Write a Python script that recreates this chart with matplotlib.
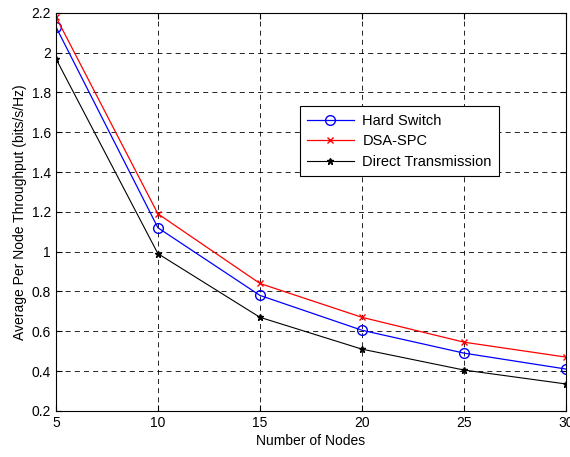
import matplotlib
matplotlib.use("Agg")
import matplotlib.pyplot as plt

nodes = [5, 10, 15, 20, 25, 30]
hard_switch = [2.13, 1.12, 0.78, 0.605, 0.49, 0.41]
dsa_spc = [2.18, 1.19, 0.84, 0.67, 0.545, 0.47]
direct_tx = [1.97, 0.99, 0.67, 0.51, 0.405, 0.335]

plt.rcParams['font.family'] = ['Liberation Sans', 'DejaVu Sans']
plt.rcParams['font.size'] = 10

fig = plt.figure(figsize=(5.7, 4.57), dpi=100)
ax = fig.add_axes([0.098, 0.101, 0.895, 0.871])

ax.plot(nodes, hard_switch, color='blue', marker='o', markersize=7,
        markerfacecolor='none', linewidth=0.9, label='Hard Switch')
ax.plot(nodes, dsa_spc, color='red', marker='x', markersize=4,
        linewidth=0.9, label='DSA-SPC')
ax.plot(nodes, direct_tx, color='black', marker='*', markersize=5,
        linewidth=0.8, label='Direct Transmission')

ax.set_xlim(5, 30)
ax.set_ylim(0.2, 2.2)
ax.set_xticks([5, 10, 15, 20, 25, 30])
ax.set_yticks([0.2, 0.4, 0.6, 0.8, 1, 1.2, 1.4, 1.6, 1.8, 2, 2.2])
ax.set_yticklabels(['0.2', '0.4', '0.6', '0.8', '1', '1.2', '1.4', '1.6', '1.8', '2', '2.2'])
ax.grid(True, color='black', linestyle=(0, (6, 5)), linewidth=0.6)
ax.tick_params(direction='in', length=4, top=True, right=True)
for s in ax.spines.values():
    s.set_linewidth(0.8)

ax.set_xlabel('Number of Nodes', labelpad=3)
ax.set_ylabel('Average Per Node Throughput (bits/s/Hz)', labelpad=3)

leg = ax.legend(loc='upper left', bbox_to_anchor=(0.478, 0.765), fancybox=False,
                edgecolor='black', framealpha=1, borderaxespad=0,
                handlelength=3.2, handletextpad=0.6, labelspacing=0.45,
                fontsize=10.5, borderpad=0.5)
leg.get_frame().set_linewidth(0.8)

fig.savefig('out.png', dpi=100)
